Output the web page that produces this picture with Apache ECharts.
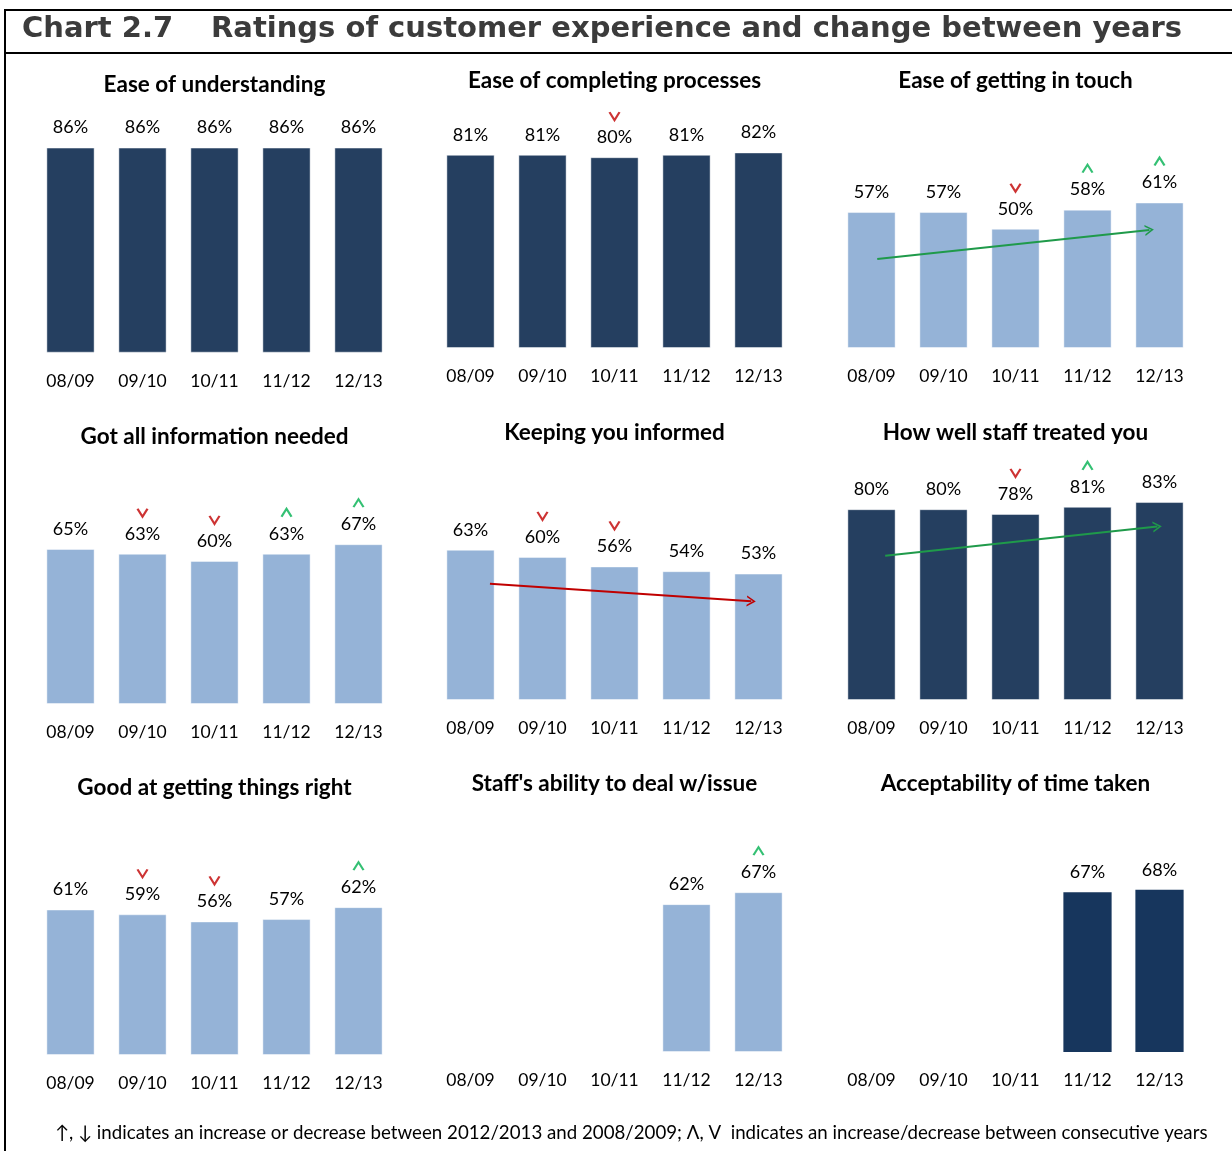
<!DOCTYPE html>
<html>
<head>
<meta charset="utf-8">
<title>Chart 2.7 Ratings of customer experience</title>
<script src="https://cdn.jsdelivr.net/npm/echarts@6/dist/echarts.min.js"></script>
<style>
  html, body { margin: 0; padding: 0; background: #fff; }
  #chart { width: 1232px; height: 1151px; }
</style>
</head>
<body>
<div id="chart"></div>
<script>
// Survey years shown on every panel
const years = ['08/09', '09/10', '10/11', '11/12', '12/13'];

// Panel titles, in reading order (3 x 3)
const panelTitles = [
  'Ease of understanding', 'Ease of completing processes', 'Ease of getting in touch',
  'Got all information needed', 'Keeping you informed', 'How well staff treated you',
  'Good at getting things right', "Staff's ability to deal w/issue", 'Acceptability of time taken'
];

// Share of customers rating each aspect positively (%)
const easeUnderstanding = [86, 86, 86, 86, 86];
const easeCompleting    = [81, 81, 80, 81, 82];
const easeTouch         = [57, 57, 50, 58, 61];
const gotInformation    = [65, 63, 60, 63, 67];
const keepingInformed   = [63, 60, 56, 54, 53];
const staffTreated      = [80, 80, 78, 81, 83];
const gettingRight      = [61, 59, 56, 57, 62];
const staffAbility      = [null, null, null, 62, 67];
const timeTaken         = [null, null, null, 67, 68];

// Change against the previous year: 1 = increase, -1 = decrease, 0 = none
const chgUnderstanding = [0, 0, 0, 0, 0];
const chgCompleting    = [0, 0, -1, 0, 0];
const chgTouch         = [0, 0, -1, 1, 1];
const chgInformation   = [0, -1, -1, 1, 1];
const chgInformed      = [0, -1, -1, 0, 0];
const chgTreated       = [0, 0, -1, 1, 0];
const chgRight         = [0, -1, -1, 0, 1];
const chgAbility       = [0, 0, 0, 0, 1];
const chgTime          = [0, 0, 0, 0, 0];

// Long-run change arrows (2008/09 to 2012/13): [x, value] at start and tip
const trendTouch    = [[0.08, 37.3], [3.86, 49.5]];
const trendInformed = [[0.27, 48.7], [3.90, 41.4]];
const trendTreated  = [[0.19, 60.5], [3.97, 72.7]];

const panelValues  = [easeUnderstanding, easeCompleting, easeTouch, gotInformation, keepingInformed, staffTreated, gettingRight, staffAbility, timeTaken];
const panelChanges = [chgUnderstanding, chgCompleting, chgTouch, chgInformation, chgInformed, chgTreated, chgRight, chgAbility, chgTime];
const panelTrends  = [null, null, trendTouch, null, trendInformed, trendTreated, null, null, null];

const NAVY = '#253f60';
const NAVY_DEEP = '#17365d';
const LIGHT = '#95b3d7';
const panelColors = [NAVY, NAVY, LIGHT, LIGHT, LIGHT, NAVY, LIGHT, LIGHT, NAVY_DEEP];

const UP_GREEN = '#00b050';
const DOWN_RED = '#c00000';
const TREND_GREEN = '#1f9a4a';
const TREND_RED = '#c00000';

const FONT = 'Lato, "Noto Sans", sans-serif';

// Panel geometry
const colLeft = [34.5, 434.5, 835.5];
const rowBase = [[352.7, 348, 348], [704, 700, 700], [1055, 1052, 1052]];
const rowTitleY = [[85, 81, 81], [437, 433, 433], [788, 784, 784]];
const PANEL_W = 360;
const PANEL_H = 238.5;

const chevronDown = 'path://M0,0 L5,8 L10,0';
const chevronUp = 'path://M0,8 L5,0 L10,8';
const arrowHead = 'path://M0,10 L5,0 L10,10 L8.4,10 L5,3.2 L1.6,10 Z';

const grids = [], xAxes = [], yAxes = [], series = [], graphics = [];

for (let p = 0; p < 9; p++) {
  const r = Math.floor(p / 3), c = p % 3;
  const base = rowBase[r][c];
  grids.push({ left: colLeft[c], top: base - PANEL_H, width: PANEL_W, height: PANEL_H, containLabel: false });

  xAxes.push({
    type: 'category', gridIndex: p, data: years,
    axisLine: { show: false }, axisTick: { show: false }, splitLine: { show: false },
    axisLabel: { color: '#000', fontFamily: FONT, fontSize: 17.5, margin: 19.5, interval: 0 }
  });
  // hidden numeric twin of the category axis, used for the trend arrows
  xAxes.push({ type: 'value', gridIndex: p, min: -0.5, max: 4.5, show: false });
  yAxes.push({ type: 'value', gridIndex: p, min: 0, max: 100, show: false });

  const vals = panelValues[p];
  series.push({
    type: 'bar', xAxisIndex: 2 * p, yAxisIndex: p, data: vals,
    barWidth: '67%',
    itemStyle: {
      color: panelColors[p],
      borderColor: p === 8 ? panelColors[p] : 'rgba(255,255,255,0.45)',
      borderWidth: p === 8 ? 0 : 1
    },
    label: {
      show: true, position: 'top', distance: 11,
      color: '#000', fontFamily: FONT, fontSize: 18,
      formatter: (d) => d.value == null ? '' : d.value + '%'
    },
    silent: true, animation: false
  });

  // year-on-year change chevrons above the value labels
  const marks = [];
  panelChanges[p].forEach((ch, i) => {
    if (ch !== 0 && vals[i] != null) {
      marks.push({
        value: [i, vals[i]],
        symbol: ch > 0 ? chevronUp : chevronDown,
        itemStyle: { color: 'none', borderColor: ch > 0 ? UP_GREEN : DOWN_RED, borderWidth: 2 }
      });
    }
  });
  if (marks.length) {
    series.push({
      type: 'scatter', xAxisIndex: 2 * p, yAxisIndex: p, data: marks,
      symbolSize: [10, 8], symbolOffset: [0, -41], z: 5,
      silent: true, animation: false
    });
  }

  const tr = panelTrends[p];
  if (tr) {
    const col = tr[1][1] >= tr[0][1] ? TREND_GREEN : TREND_RED;
    series.push({
      type: 'line', xAxisIndex: 2 * p + 1, yAxisIndex: p, data: [],
      silent: true, animation: false,
      markLine: {
        silent: true, animation: false,
        symbol: ['none', arrowHead], symbolSize: [11, 9],
        label: { show: false },
        lineStyle: { color: col, width: 2, type: 'solid' },
        emphasis: { disabled: true },
        data: [[{ coord: tr[0] }, { coord: tr[1] }]]
      },
      z: 6
    });
  }

  graphics.push({
    type: 'text', x: colLeft[c] + PANEL_W / 2, y: rowTitleY[r][c],
    style: {
      text: panelTitles[p], fill: '#000', font: 'bold 22.5px ' + FONT,
      textAlign: 'center', textVerticalAlign: 'middle'
    }
  });
}

// frame and heading
const HEAD_FONT = 'bold 29px "DejaVu Sans", Verdana, sans-serif';
graphics.push(
  { type: 'line', shape: { x1: 4, y1: 10, x2: 1232, y2: 10 }, style: { stroke: '#000', lineWidth: 2 } },
  { type: 'line', shape: { x1: 4, y1: 53, x2: 1232, y2: 53 }, style: { stroke: '#000', lineWidth: 2 } },
  { type: 'line', shape: { x1: 5, y1: 9, x2: 5, y2: 1151 }, style: { stroke: '#000', lineWidth: 2 } },
  { type: 'text', x: 22, y: 29, style: { text: 'Chart 2.7', fill: '#3b3b3b', font: HEAD_FONT, textAlign: 'left', textVerticalAlign: 'middle' } },
  { type: 'text', x: 211, y: 29, style: { text: 'Ratings of customer experience and change between years', fill: '#3b3b3b', font: HEAD_FONT, textAlign: 'left', textVerticalAlign: 'middle' } },
  { type: 'text', x: 55, y: 1133, style: { text: '↑, ↓ indicates an increase or decrease between 2012/2013 and 2008/2009; Λ, V  indicates an increase/decrease between consecutive years', fill: '#000', font: '18.7px ' + FONT, textAlign: 'left', textVerticalAlign: 'middle' } }
);

const chart = echarts.init(document.getElementById('chart'), null, { renderer: 'canvas' });
chart.setOption({
  animation: false,
  backgroundColor: '#fff',
  grid: grids,
  xAxis: xAxes,
  yAxis: yAxes,
  series: series,
  graphic: graphics
});
</script>
</body>
</html>
